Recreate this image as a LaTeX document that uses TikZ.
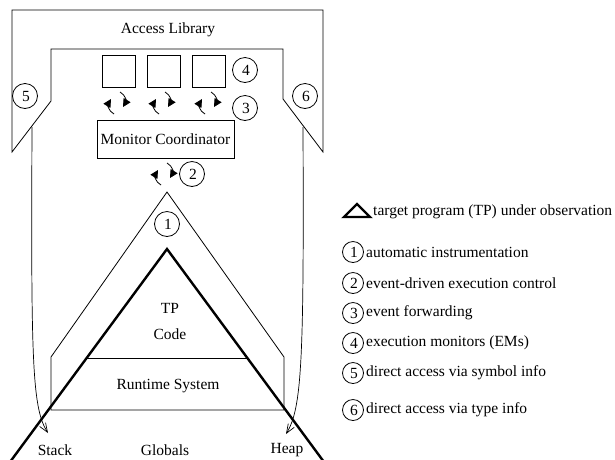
\documentclass[tikz,border=0pt]{standalone}
\usepackage{fontspec}
\setmainfont{Liberation Serif}
\usetikzlibrary{arrows.meta}
\tikzset{
  swap/.pic={
    \draw[line width=0.8pt,-{Triangle[length=8pt,width=8pt]}] (-3,11) .. controls (-9,8) and (-9,1) .. (-6,-4);
    \draw[line width=0.8pt,-{Triangle[length=8pt,width=8pt]}] (3,-11) .. controls (9,-8) and (9,-1) .. (6,4);
  }
}
\begin{document}
\begin{tikzpicture}[x=1pt,y=-1pt,
  font=\fontsize{15.5}{18}\selectfont,
  thinline/.style={line width=0.8pt},
  tpline/.style={line width=2.4pt},
  num/.style={circle,draw,line width=0.8pt,minimum size=25pt,inner sep=0pt},
  lnum/.style={circle,draw,line width=0.8pt,minimum size=21pt,inner sep=0pt},
  embox/.style={draw,line width=0.8pt,minimum width=33pt,minimum height=32pt,inner sep=0pt},
  access/.style={line width=0.7pt,-{Straight Barb[length=9pt,width=7pt]}},
  lab/.style={inner sep=0pt},
  legtext/.style={anchor=west,inner sep=0pt}
]
\useasboundingbox (0,0) rectangle (615,459);
\clip (0,0) rectangle (615,459);

% Access library outline
\draw[thinline] (12,10) -- (323,10) -- (323,152) -- (283,99) -- (283,49)
  -- (51,49) -- (51,101) -- (12,152) -- cycle;
\node[lab] (al) at (168,30) {Access Library};

% execution monitors
\node[embox] (em1) at (118.5,71) {};
\node[embox] (em2) at (163.5,71) {};
\node[embox] (em3) at (209,71) {};
\node[num] (c4) at (245,70) {\hspace{2pt}4};

% event forwarding
\pic at (117,103) {swap};
\pic at (162,103) {swap};
\pic at (208,103) {swap};
\node[num] (c3) at (245,108) {\hspace{2pt}3};

% Monitor coordinator
\node[draw,thinline,minimum width=137pt,minimum height=38pt,inner sep=0pt] (mc) at (165.5,139) {Monitor Coordinator};

% execution control
\pic at (164,174) {swap};
\node[num] (c2) at (192,174) {\hspace{2pt}2};

% side access circles
\node[num] (c5) at (25,96) {\hspace{2pt}5};
\node[num] (c6) at (305,96) {\hspace{2pt}6};

% instrumentation shell
\draw[thinline] (167,192) -- (284,357) -- (284,410) -- (51,410) -- (51,357) -- cycle;
\node[num] (c1) at (167,224) {\hspace{2pt}1};

% target program triangle
\coordinate (apex) at (167,249);
\coordinate (bl) at (10,462);
\coordinate (br) at (324,462);
\draw[tpline] (bl) -- (apex) -- (br);
\draw[thinline] (87,358) -- (247,358);
\node[lab] (tp) at (170,308) {TP};
\node[lab] (code) at (170,334) {Code};
\node[lab] (rts) at (168,386) {Runtime System};
\node[lab] (stack) at (55,450) {Stack};
\node[lab] (glob) at (165,450) {Globals};
\node[lab] (heap) at (287,450) {Heap};

% direct access arrows
\coordinate (s5) at (32,127);
\coordinate (s6) at (303,127);
\coordinate (t5) at (48,433);
\coordinate (t6) at (286,434);
\draw[access] (s5) .. controls (31,360) and (32,408) .. (t5);
\draw[access] (s6) .. controls (304,360) and (302,408) .. (t6);

% legend
\draw[tpline,line join=miter] (344,217) -- (357,204) -- (370,217) -- cycle;
\node[legtext] (l0) at (373,212) {target program (TP) under observation};
\node[lnum] (lc1) at (353,252) {\hspace{2pt}1};
\node[legtext] (l1) at (366,252) {automatic instrumentation};
\node[lnum] (lc2) at (353,283) {\hspace{2pt}2};
\node[legtext] (l2) at (366,283) {event-driven execution control};
\node[lnum] (lc3) at (353,313) {\hspace{2pt}3};
\node[legtext] (l3) at (366,313) {event forwarding};
\node[lnum] (lc4) at (353,343) {\hspace{2pt}4};
\node[legtext] (l4) at (366,343) {execution monitors (EMs)};
\node[lnum] (lc5) at (353,373) {\hspace{2pt}5};
\node[legtext] (l5) at (366,373) {direct access via symbol info};
\node[lnum] (lc6) at (353,410) {\hspace{2pt}6};
\node[legtext] (l6) at (366,410) {direct access via type info};
\end{tikzpicture}
\end{document}
